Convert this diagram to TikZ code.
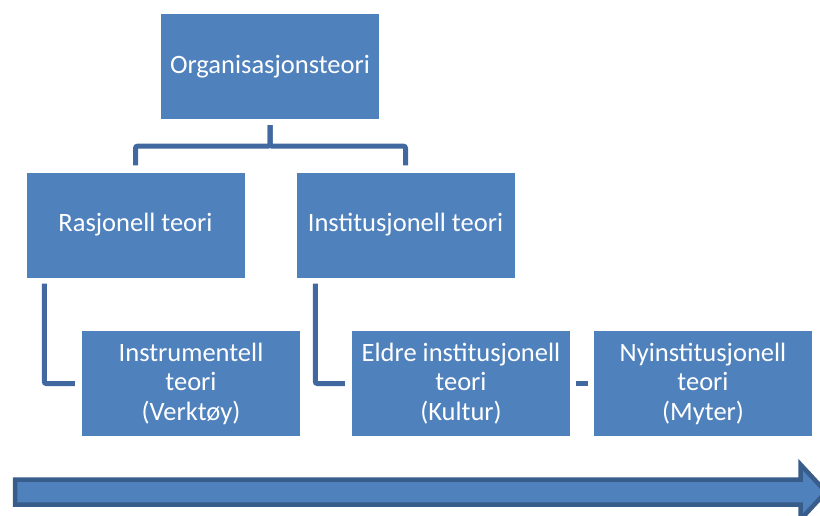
\documentclass[tikz,border=0pt]{standalone}
\usepackage{fontspec}
\setmainfont{Carlito}
\usetikzlibrary{calc}
\definecolor{boxblue}{HTML}{4F81BD}
\definecolor{darkblue}{HTML}{385D8A}
\definecolor{connblue}{HTML}{41699F}
\tikzset{
  box/.style={fill=boxblue, draw=none, text=white, minimum width=218pt, minimum height=105pt,
    inner sep=0pt, align=center, font=\fontsize{26.5}{29.5}\selectfont},
  conn/.style={draw=connblue, line width=5pt, rounded corners=2pt, shorten <=6pt, shorten >=7pt}
}
\begin{document}
\begin{tikzpicture}[x=1pt,y=-1pt]
\useasboundingbox (0,0) rectangle (820,515);
\node[box] (org) at (270,66.5) {Organisasjonsteori};
\node[box] (ras) at (135.5,225) {Rasjonell teori};
\node[box] (inst) at (405.5,225) {Institusjonell teori};
\node[box] (instr) at (191,383.5) {Instrumentell\\teori\\(Verktøy)};
\node[box] (eldre) at (461,383.5) {Eldre institusjonell\\teori\\(Kultur)};
\node[box] (ny) at (703,383.5) {Nyinstitusjonell\\teori\\(Myter)};
\draw[conn] (org.south) -- ++(0,27) -| (ras.north);
\draw[conn] (org.south) -- ++(0,27) -| (inst.north);
\draw[conn] ($(ras.south west)+(18,0)$) |- (instr.west);
\draw[conn] ($(inst.south west)+(19,0)$) |- (eldre.west);
\draw[conn, rounded corners=0pt, shorten <=6pt, shorten >=6pt] (eldre.east) -- (ny.west);
\draw[fill=boxblue, draw=darkblue, line width=4.5pt, line join=miter]
  (15,479.5) -- (800.5,479.5) -- (800.5,464.5) -- (826,492) -- (800.5,519.5) -- (800.5,504.5) -- (15,504.5) -- cycle;
\end{tikzpicture}
\end{document}
